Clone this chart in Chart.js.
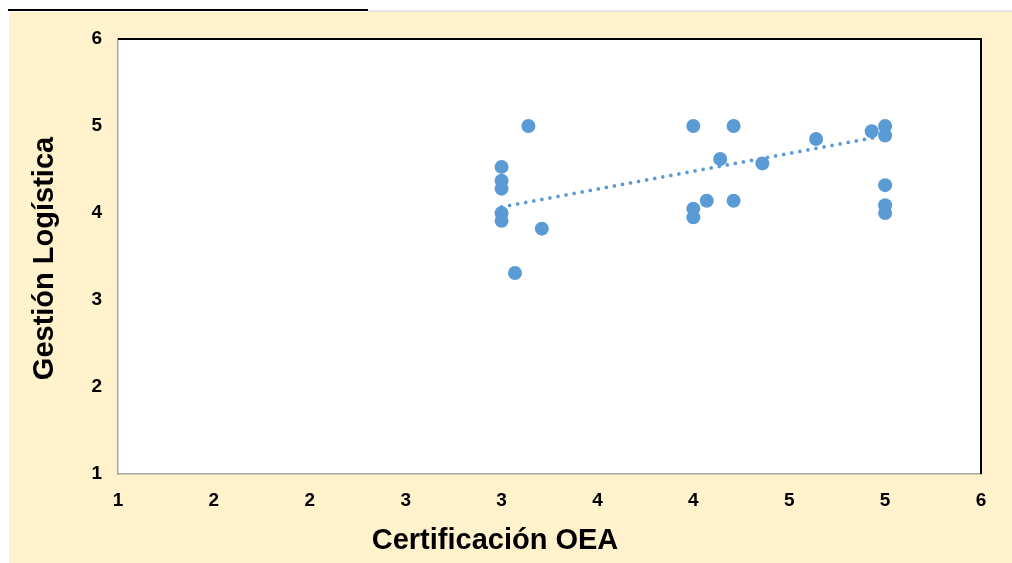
<!DOCTYPE html>
<html><head><meta charset="utf-8">
<script src="https://cdn.jsdelivr.net/npm/chart.js@4"></script>
<style>html,body{margin:0;padding:0;background:#fff;overflow:hidden}#wrap{width:1012px;height:563px;position:relative}</style>
</head><body><div id="wrap"><canvas id="c" width="1012" height="563"></canvas></div>
<script>
const xValues = [3, 3, 3, 3, 3, 3.14, 3.07, 3.21, 4, 4, 4, 4.07, 4.14, 4.21, 4.21, 4.36, 4.64, 4.93, 5, 5, 5, 5, 5];
const yValues = [4.53, 4.37, 4.28, 4.00, 3.91, 5.00, 3.31, 3.82, 5.00, 4.05, 3.95, 4.14, 4.62, 5.00, 4.14, 4.57, 4.85, 4.94, 5.00, 4.89, 4.32, 4.09, 4.00];
const trendX = [3, 5];
const trendY = [4.07, 4.89];
const xTickLabels = ['1', '2', '2', '3', '3', '4', '4', '5', '5', '6'];
const yTickLabels = ['1', '2', '3', '4', '5', '6'];
const xTitle = 'Certificación OEA';
const yTitle = 'Gestión Logística';

const BLUE = '#5B9BD5';
const FONT = 'Arial, "Liberation Sans", sans-serif';

const decor = {
  id: 'decor',
  beforeDraw(chart) {
    const ctx = chart.ctx, a = chart.chartArea;
    ctx.save();
    ctx.fillStyle = '#ffffff';
    ctx.fillRect(0, 0, chart.width, chart.height);
    ctx.fillStyle = '#FFF2CC';
    ctx.fillRect(9, 12, chart.width - 9, chart.height - 12);
    ctx.strokeStyle = '#000000';
    ctx.lineWidth = 2;
    ctx.beginPath(); ctx.moveTo(8, 10); ctx.lineTo(368, 10); ctx.stroke();
    ctx.strokeStyle = '#DDDAD5';
    ctx.lineWidth = 1.5;
    ctx.beginPath(); ctx.moveTo(368, 11); ctx.lineTo(chart.width, 11); ctx.stroke();
    ctx.fillStyle = '#ffffff';
    ctx.fillRect(a.left, a.top, a.right - a.left, a.bottom - a.top);
    ctx.restore();
  },
  afterDraw(chart) {
    const ctx = chart.ctx, a = chart.chartArea;
    ctx.save();
    ctx.strokeStyle = '#000000';
    ctx.lineWidth = 2;
    ctx.beginPath();
    ctx.moveTo(a.left, a.top); ctx.lineTo(a.right, a.top); ctx.lineTo(a.right, a.bottom);
    ctx.stroke();
    ctx.fillStyle = '#000000';
    ctx.font = 'bold 29px ' + FONT;
    ctx.textAlign = 'center';
    ctx.textBaseline = 'middle';
    ctx.fillText(xTitle, 495, 541);
    ctx.translate(45, (a.top + a.bottom) / 2 + 2);
    ctx.rotate(-Math.PI / 2);
    ctx.fillText(yTitle, 0, 0);
    ctx.restore();
  }
};

new Chart(document.getElementById('c'), {
  type: 'scatter',
  data: {
    datasets: [
      {
        type: 'line',
        order: 0,
        data: trendX.map((x, i) => ({ x: x, y: trendY[i] })),
        borderColor: BLUE,
        borderWidth: 3.7,
        borderDash: [0, 8.2],
        borderCapStyle: 'round',
        pointRadius: 0,
        fill: false,
        tension: 0
      },
      {
        order: 1,
        data: xValues.map((x, i) => ({ x: x, y: yValues[i] })),
        backgroundColor: BLUE,
        borderColor: BLUE,
        borderWidth: 0,
        pointRadius: 7,
        pointHoverRadius: 7
      }
    ]
  },
  options: {
    responsive: false,
    animation: false,
    devicePixelRatio: 1,
    layout: { padding: { top: 39, right: 31, left: 0, bottom: 0 } },
    plugins: { legend: { display: false }, tooltip: { enabled: false } },
    scales: {
      x: {
        type: 'linear',
        min: 1, max: 5.5,
        afterFit(s) { s.height = 89; s.paddingLeft = 0; s.paddingRight = 0; },
        afterBuildTicks(s) { s.ticks = xTickLabels.map((t, i) => ({ value: 1 + i * 0.5 })); },
        ticks: {
          autoSkip: false, maxRotation: 0, padding: 15,
          color: '#000', font: { family: FONT, size: 19, weight: 'bold' },
          callback: (v, i) => xTickLabels[i]
        },
        grid: { display: false, drawTicks: false },
        border: { display: true, color: '#A6A6A6', width: 1.5 }
      },
      y: {
        type: 'linear',
        min: 1, max: 6,
        afterFit(s) { s.width = 118; s.paddingTop = 0; s.paddingBottom = 0; },
        ticks: {
          stepSize: 1, padding: 16,
          color: '#000', font: { family: FONT, size: 19, weight: 'bold' },
          callback: (v, i) => yTickLabels[i]
        },
        grid: { display: false, drawTicks: false },
        border: { display: true, color: '#A6A6A6', width: 1.5 }
      }
    }
  },
  plugins: [decor]
});
</script></body></html>
